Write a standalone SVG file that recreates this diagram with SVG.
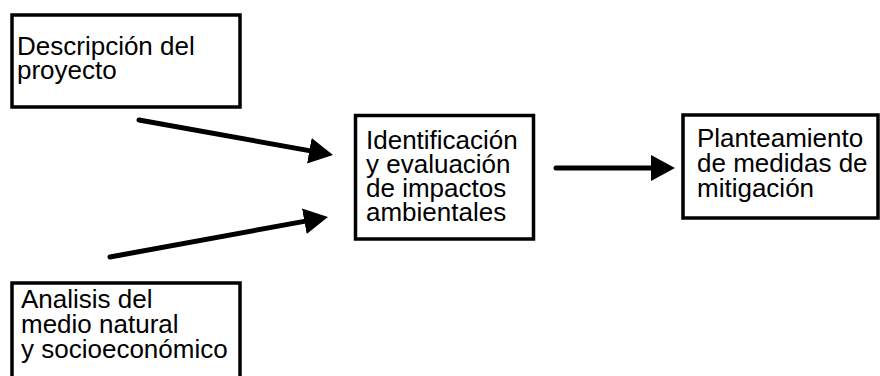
<svg xmlns="http://www.w3.org/2000/svg" width="880" height="376" viewBox="0 0 880 376">
<style>
.box{fill:#fff;stroke:#000;stroke-width:3.5}
.t{font-family:"Liberation Sans",Arial,sans-serif;font-size:26px;fill:#000}
.c{fill:none;stroke:#000;stroke-width:5;stroke-linecap:round}
</style>
<defs>
<marker id="ah" markerUnits="userSpaceOnUse" markerWidth="26" markerHeight="28" refX="4" refY="13" orient="auto" viewBox="0 0 26 26">
<path d="M0,0 L24,13 L0,26 z" fill="#000"/>
</marker>
</defs>
<rect width="880" height="376" fill="#fff"/>
<g id="n1">
<rect class="box" x="12" y="15" width="228" height="92"/>
<text class="t" x="17" y="55">Descripción del</text>
<text class="t" x="17" y="79">proyecto</text>
</g>
<g id="n2">
<rect class="box" x="12" y="283" width="228" height="110"/>
<text class="t" x="21" y="308">Analisis del</text>
<text class="t" x="21" y="333">medio natural</text>
<text class="t" x="21" y="358">y socioeconómico</text>
</g>
<g id="n3">
<rect class="box" x="355.5" y="115.5" width="178" height="123.5"/>
<text class="t" x="366" y="149">Identificación</text>
<text class="t" x="366" y="173">y evaluación</text>
<text class="t" x="366" y="197">de impactos</text>
<text class="t" x="366" y="221">ambientales</text>
</g>
<g id="n4">
<rect class="box" x="683" y="115" width="195" height="103"/>
<text class="t" x="697" y="147">Planteamiento</text>
<text class="t" x="697" y="172">de medidas de</text>
<text class="t" x="697" y="197">mitigación</text>
</g>
<g id="connectors">
<line class="c" x1="139" y1="120" x2="313.3" y2="151.4" marker-end="url(#ah)"/>
<line class="c" x1="110" y1="257" x2="308.3" y2="220.6" marker-end="url(#ah)"/>
<line class="c" x1="556" y1="168" x2="655" y2="168" marker-end="url(#ah)"/>
</g>
</svg>
